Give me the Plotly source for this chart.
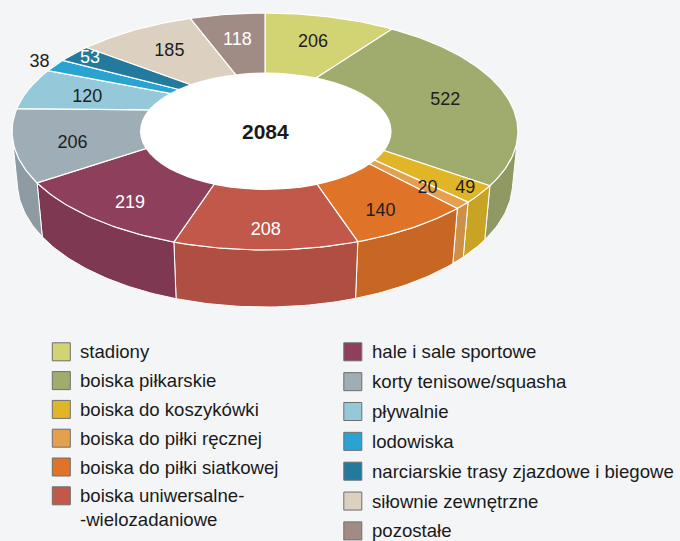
import numpy as np
import plotly.graph_objects as go

# ---------------- data ----------------
categories = [
    "stadiony",
    "boiska piłkarskie",
    "boiska do koszykówki",
    "boiska do piłki ręcznej",
    "boiska do piłki siatkowej",
    "boiska uniwersalne-<br>-wielozadaniowe",
    "hale i sale sportowe",
    "korty tenisowe/squasha",
    "pływalnie",
    "lodowiska",
    "narciarskie trasy zjazdowe i biegowe",
    "siłownie zewnętrzne",
    "pozostałe",
]
values = [206, 522, 49, 20, 140, 208, 219, 206, 120, 38, 53, 185, 118]

# ---------------- style ----------------
colors = ["#d2d473", "#a0ab6e", "#e0b628", "#e5a04f", "#df7327", "#c25849",
          "#8e3f5c", "#9eadb6", "#95c9da", "#29a3d1", "#247a9c", "#dcd0c0", "#a08c84"]
label_colors = ["#1e1e1e", "#1e1e1e", "#1e1e1e", "#1e1e1e", "#1e1e1e", "white",
                "white", "#1e1e1e", "#1e1e1e", "#1e1e1e", "white", "#1e1e1e", "white"]
label_radius = {"lodowiska": 1.08, "narciarskie trasy zjazdowe i biegowe": 0.91,
                "boiska do koszykówki": 0.94, "boiska do piłki ręcznej": 0.84}
BG = "#f4f5f7"
FONT = "Liberation Sans, Arial, sans-serif"

# ---------------- projection of a tilted 3D pie (pixel space) ----------------
CX, CY = 265.0, 111.0
FOC, DIST = 1278.0, 5.13
ALPHA = np.arcsin(0.4613)
DEPTH = 0.232


def proj(r, th, h=0.0):
    u = r * np.sin(th)
    v = r * np.cos(th)
    w = DIST + v * np.cos(ALPHA) - h * np.sin(ALPHA)
    s = v * np.sin(ALPHA) + h * np.cos(ALPHA)
    return CX + FOC * u / w, CY - FOC * s / w


def darker(hexc, f=0.9):
    hexc = hexc.lstrip("#")
    r, g, b = (int(hexc[i:i + 2], 16) for i in (0, 2, 4))
    return "#%02x%02x%02x" % (int(r * f), int(g * f), int(b * f))


total = sum(values)
fr = np.cumsum([0] + values) / total * 2 * np.pi
th_vis = np.arccos(-1.0 / (DIST * np.cos(ALPHA)))  # visible side limits

fig = go.Figure()

# side walls
for i, c in enumerate(colors):
    a, b = max(fr[i], th_vis), min(fr[i + 1], 2 * np.pi - th_vis)
    if b <= a:
        continue
    t = np.linspace(a, b, max(3, int((b - a) / (2 * np.pi) * 400)))
    xt, yt = proj(1.0, t, 0.0)
    xb, yb = proj(1.0, t[::-1], -DEPTH)
    fig.add_trace(go.Scatter(x=np.r_[xt, xb, xt[:1]], y=np.r_[yt, yb, yt[:1]],
                             mode="lines", fill="toself", fillcolor=darker(c),
                             line=dict(color="white", width=1), hoverinfo="skip",
                             showlegend=False))

# top faces
for i, c in enumerate(colors):
    a, b = fr[i], fr[i + 1]
    t = np.linspace(a, b, max(3, int((b - a) / (2 * np.pi) * 400)))
    xa, ya = proj(1.0, t)
    x0, y0 = proj(0.0, 0.0)
    fig.add_trace(go.Scatter(x=np.r_[x0, xa, x0], y=np.r_[y0, ya, y0],
                             mode="lines", fill="toself", fillcolor=c,
                             line=dict(color="white", width=1.2), hoverinfo="skip",
                             showlegend=False))

# slice labels
lx, ly = [], []
for i, cat in enumerate(categories):
    mid = (fr[i] + fr[i + 1]) / 2
    if cat in label_radius:
        x, y = proj(label_radius[cat], mid)
    else:
        x, y = proj(0.76 - 0.06 * np.cos(mid), mid, -0.04 * (1 - np.cos(mid)) / 2)
    lx.append(x)
    ly.append(y)
fig.add_trace(go.Scatter(x=lx, y=ly, mode="text", text=[str(v) for v in values],
                         textfont=dict(family=FONT, size=18, color=label_colors),
                         hoverinfo="skip", showlegend=False))

# white hole overlay + total
fig.add_shape(type="circle", x0=140, x1=391.6, y0=72.6, y1=190,
              fillcolor="white", line=dict(width=0), layer="above")
fig.add_annotation(x=265.5, y=131.5, text="<b>%d</b>" % total, showarrow=False,
                   font=dict(family=FONT, size=21, color="#1a1a1a"))

# legend (two columns)
left_n = 6
for i, (cat, c) in enumerate(zip(categories, colors)):
    if i < left_n:
        sx, tx, cy = 61.3, 77.5, 351.8 + i * 28.8
    else:
        sx, tx, cy = 352.8, 369.5, 351.8 + (i - left_n) * 29.85
    fig.add_trace(go.Scatter(x=[sx], y=[cy], mode="markers",
                             marker=dict(symbol="square", size=18, color=c,
                                         line=dict(color="#6e6e6e", width=1)),
                             hoverinfo="skip", showlegend=False))
    nlines = cat.count("<br>") + 1
    fig.add_annotation(x=tx, y=cy + (nlines - 1) * 11.3, text=cat, showarrow=False,
                       xanchor="left", yanchor="middle", align="left",
                       font=dict(family=FONT, size=18.6, color="#1a1a1a"))

fig.update_layout(
    width=680, height=541, margin=dict(l=0, r=0, t=0, b=0),
    paper_bgcolor=BG, plot_bgcolor=BG,
    xaxis=dict(range=[0, 680], visible=False, fixedrange=True),
    yaxis=dict(range=[541, 0], visible=False, fixedrange=True),
    showlegend=False,
)
fig.write_html(
    "out.html",
    config=dict(displayModeBar=False),
    post_script="document.body.style.margin='0';document.body.style.overflow='hidden';",
)
